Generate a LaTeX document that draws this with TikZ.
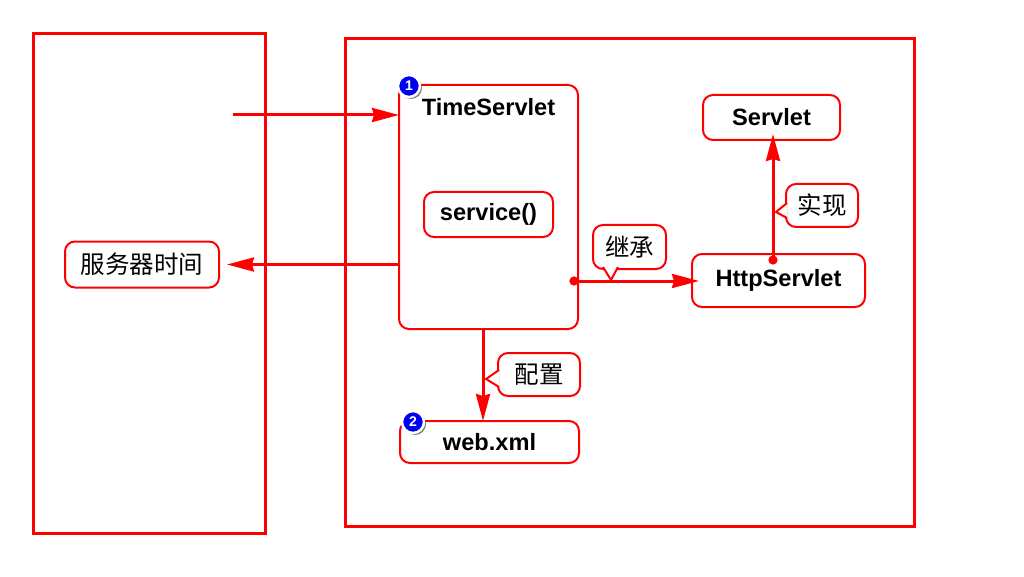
\documentclass[tikz,border=0pt]{standalone}
\usepackage{fontspec}
\setmainfont{Liberation Sans}
\newfontfamily\cjk{Noto Sans CJK SC}
\usetikzlibrary{arrows.meta,positioning,calc,shadows}
\definecolor{wire}{RGB}{255,0,0}
\definecolor{badgeblue}{RGB}{0,0,240}

\begin{document}
\begin{tikzpicture}[x=1pt,y=-1pt,font=\fontsize{23.6}{26}\selectfont\bfseries,
  frame/.style={draw=wire,line width=3pt,inner sep=0pt,outer sep=0pt},
  box/.style={draw=wire,line width=2pt,rounded corners=10pt,fill=white,inner sep=0pt,outer sep=0pt,align=center},
  cnbox/.style={box,font=\fontsize{24.5}{26}\selectfont\cjk},
  tipline/.style={draw=wire,line width=2pt,fill=white,line join=miter},
  arr/.style={-{Stealth[length=27pt,width=14pt,inset=2pt]},draw=wire,line width=3pt},
  dotarr/.style={{Circle[length=9pt,width=9pt]}-{Stealth[length=27pt,width=14pt,inset=2pt]},draw=wire,line width=3pt},
  badge/.style={circle,draw=white,line width=2.5pt,fill=badgeblue,text=white,minimum size=22pt,inner sep=0pt,font=\fontsize{14}{14}\selectfont\bfseries,drop shadow={shadow xshift=2pt,shadow yshift=-2pt,fill=black,opacity=.5}}]
\useasboundingbox[fill=white] (0,0) rectangle (1024,577);
\node[frame,minimum width=232pt,minimum height=499pt] (client) at (149,283.5) {};
\node[frame,minimum width=569pt,minimum height=487pt] (server) at (629.5,282.5) {};
\node[box,minimum width=179pt,minimum height=244pt] (time) at (488.5,207) {};
\node[below=13pt of time.north,inner sep=0pt,anchor=north] (timename) {TimeServlet};
\node[box,minimum width=129pt,minimum height=45pt] (service) at (488.5,214.5) {service()};
\node[box,minimum width=137pt,minimum height=45pt] (servlet) at (771.5,117.5) {Servlet};
\node[box,minimum width=173pt,minimum height=53pt] (http) at (778.5,280.5) {HttpServlet};
\node[box,minimum width=179pt,minimum height=42pt] (web) at (489.5,442) {web.xml};
\node[cnbox,minimum width=154pt,minimum height=46pt] (clock) at (142,264.5) {服务器时间};
\coordinate (entry) at (233,115);
\coordinate (extends) at (574,281);
\coordinate (impl) at (773,260);
\draw[arr] (entry) -- (time.west |- entry);
\draw[arr,shorten >=8pt] (time.west |- clock.east) -- (clock.east);
\draw[dotarr,shorten <=-4.5pt,shorten >=-7pt] (extends) -- (http.west |- extends);
\draw[dotarr,shorten <=-4.5pt,shorten >=-6pt] (impl) -- (impl |- servlet.south);
\draw[arr] (time.south -| 483,0) -- (web.north -| 483,0);
\node[cnbox,minimum width=73pt,minimum height=44pt] (extnote) at (629.5,247) {继承};
\node[cnbox,minimum width=72pt,minimum height=43pt] (implnote) at (822,205.5) {实现};
\node[cnbox,minimum width=82pt,minimum height=43pt] (cfgnote) at (539,374.5) {配置};
\draw[tipline] (603,267) -- (611,280) -- (618,267);
\draw[tipline] (787,203) -- (776,212) -- (787,218);
\draw[tipline] (499,370) -- (486,379) -- (499,387);
\node[badge] (first) at (409,86) {1};
\node[badge] (second) at (413,422) {2};
\end{tikzpicture}
\end{document}
